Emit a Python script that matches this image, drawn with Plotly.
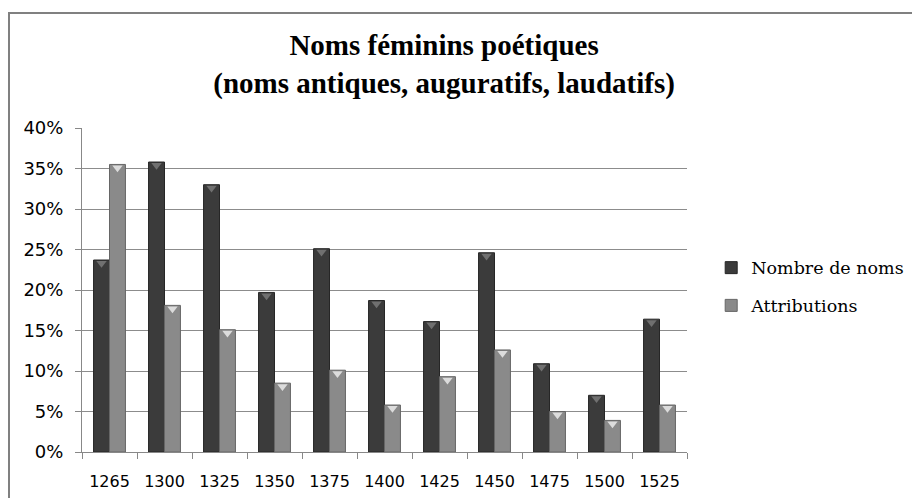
import plotly.graph_objects as go

years = ["1265", "1300", "1325", "1350", "1375", "1400", "1425", "1450", "1475", "1500", "1525"]
nombre_de_noms = [0.237, 0.358, 0.330, 0.197, 0.251, 0.187, 0.161, 0.246, 0.109, 0.070, 0.164]
attributions = [0.355, 0.181, 0.151, 0.085, 0.101, 0.058, 0.093, 0.126, 0.050, 0.039, 0.058]
y_ticks = [0, 0.05, 0.10, 0.15, 0.20, 0.25, 0.30, 0.35, 0.40]
y_tick_labels = ["0%", "5%", "10%", "15%", "20%", "25%", "30%", "35%", "40%"]

# page body adds an 8px offset; compensate in margins
L, T, PW, PH = 74, 120, 605, 324

fig = go.Figure()
fig.add_trace(go.Bar(
    x=years, y=nombre_de_noms, name="Nombre de noms",
    marker=dict(color="#3b3b3b", line=dict(color="#262626", width=1)),
    legendgroup="a", offsetgroup="a",
))
fig.add_trace(go.Bar(
    x=years, y=attributions, name="Attributions",
    marker=dict(color="#8a8a8a", line=dict(color="#666666", width=1)),
    legendgroup="b", offsetgroup="b",
))
# bevel triangles at bar tops
bevel = 0.004
fig.add_trace(go.Scatter(
    x=years, y=[v - bevel for v in nombre_de_noms], mode="markers",
    marker=dict(symbol="triangle-down", size=9, color="#707070", line=dict(width=0)),
    offsetgroup="a", showlegend=False, hoverinfo="skip",
))
fig.add_trace(go.Scatter(
    x=years, y=[v - bevel for v in attributions], mode="markers",
    marker=dict(symbol="triangle-down", size=9, color="#dcdcdc", line=dict(width=0)),
    offsetgroup="b", showlegend=False, hoverinfo="skip",
))

fig.update_layout(
    width=920, height=498,
    margin=dict(l=L, r=920 - L - PW, t=T, b=498 - T - PH),
    paper_bgcolor="white", plot_bgcolor="white",
    barmode="group", bargap=0.42, bargroupgap=0,
    scattermode="group", scattergap=0.42,
    title=dict(
        text="<b>Noms féminins poétiques<br>(noms antiques, auguratifs, laudatifs)</b>",
        x=0.474, xanchor="center", y=0.905, yanchor="top",
        font=dict(family="Liberation Serif", size=29, color="black"),
    ),
    legend=dict(
        x=1.040, xanchor="left", y=0.51, yanchor="middle",
        font=dict(family="DejaVu Serif", size=17.5, color="black"),
        traceorder="grouped", tracegroupgap=12,
        itemwidth=30,
    ),
    xaxis=dict(
        type="category", showgrid=False,
        showline=True, linecolor="#888888", linewidth=1,
        ticks="outside", tickson="boundaries", ticklen=6, tickcolor="#888888",
        tickfont=dict(family="DejaVu Sans", size=16, color="black"),
        ticklabelstandoff=15,
    ),
    yaxis=dict(
        range=[0, 0.40], tickvals=y_ticks, ticktext=y_tick_labels,
        showgrid=True, gridcolor="#8c8c8c", gridwidth=1,
        showline=True, linecolor="#888888", linewidth=1,
        ticks="outside", ticklen=6, tickcolor="#888888",
        tickfont=dict(family="DejaVu Sans", size=18, color="black"),
        ticklabelstandoff=8,
        zeroline=False,
    ),
    shapes=[dict(
        type="rect", xref="paper", yref="paper",
        x0=(1 - L) / PW, x1=(930 - L) / PW,
        y0=(T + PH - 510) / PH, y1=(T + PH - 5) / PH,
        line=dict(color="#808080", width=2), fillcolor="rgba(0,0,0,0)",
        layer="below",
    )],
)

fig.write_html("out.html")
